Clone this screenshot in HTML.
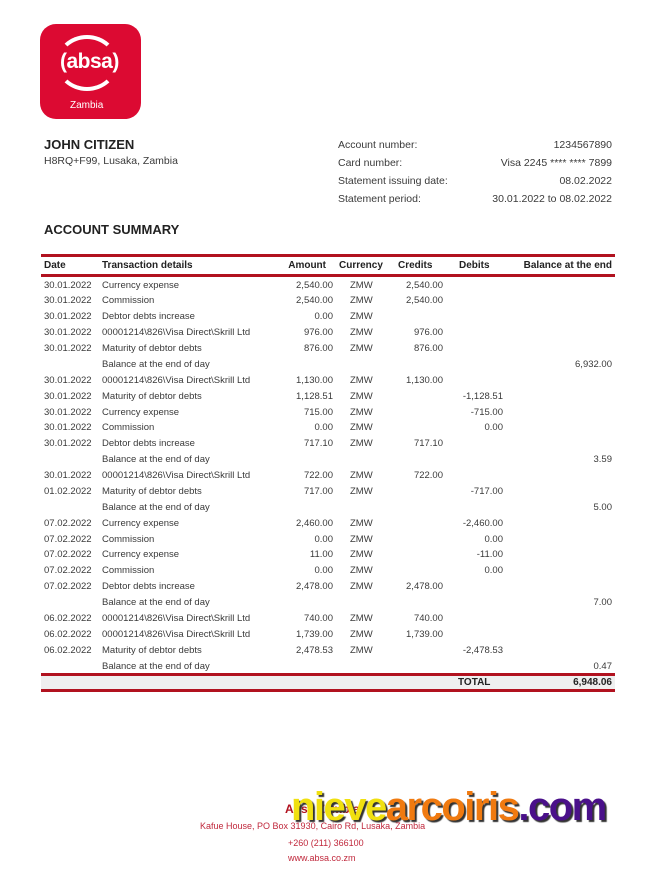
<!DOCTYPE html>
<html><head><meta charset="utf-8"><style>
*{margin:0;padding:0}
body{width:652px;height:870px;background:#fff;position:relative;font-family:"Liberation Sans",sans-serif;color:#333;overflow:hidden}
.a{position:absolute;white-space:nowrap}
.r{text-align:right}
.t{font-size:9.5px;color:#3a3a3a}
.b{font-weight:bold;color:#222}
.line{position:absolute;left:41px;width:574px;background:#b1121f}
</style></head><body>
<div class="a" style="left:40px;top:24px;width:101px;height:95px;background:#dc0a32;border-radius:16px"></div>
<div class="a" style="left:56px;top:35px;width:62px;height:56px;border:4px solid #fff;border-radius:50%;border-left-color:transparent;border-right-color:transparent;box-sizing:border-box"></div>
<div class="a" style="left:60px;top:50px;width:70px;color:#fff;font-size:21px;font-weight:bold;letter-spacing:-0.5px">(absa)</div>
<div class="a" style="left:70px;top:100px;color:#fff;font-size:10px">Zambia</div>

<div class="a b" style="left:44px;top:137px;font-size:13px">JOHN CITIZEN</div>
<div class="a t" style="left:44px;top:155px;font-size:10.5px">H8RQ+F99, Lusaka, Zambia</div>

<div class="a t" style="left:338px;top:139px;font-size:10.5px">Account number:</div>
<div class="a t" style="left:338px;top:157px;font-size:10.5px">Card number:</div>
<div class="a t" style="left:338px;top:175px;font-size:10.5px">Statement issuing date:</div>
<div class="a t" style="left:338px;top:193px;font-size:10.5px">Statement period:</div>
<div class="a t r" style="right:40px;top:139px;font-size:10.5px">1234567890</div>
<div class="a t r" style="right:40px;top:157px;font-size:10.5px">Visa 2245 **** **** 7899</div>
<div class="a t r" style="right:40px;top:175px;font-size:10.5px">08.02.2022</div>
<div class="a t r" style="right:40px;top:193px;font-size:10.5px">30.01.2022 to 08.02.2022</div>

<div class="a b" style="left:44px;top:222px;font-size:13px">ACCOUNT SUMMARY</div>

<div class="line" style="top:254px;height:3px"></div>
<div class="line" style="top:274px;height:3px"></div>
<div class="a b" style="left:44px;top:260px;font-size:10px">Date</div>
<div class="a b" style="left:102px;top:260px;font-size:10px">Transaction details</div>
<div class="a b r" style="right:326px;top:260px;font-size:10px">Amount</div>
<div class="a b" style="left:339px;top:260px;font-size:10px">Currency</div>
<div class="a b" style="left:398px;top:260px;font-size:10px">Credits</div>
<div class="a b" style="left:459px;top:260px;font-size:10px">Debits</div>
<div class="a b r" style="right:40px;top:260px;font-size:10px">Balance at the end</div>

<div id="rows"></div>
<script>
var d=[
["30.01.2022","Currency expense","2,540.00","ZMW","2,540.00","",""],
["30.01.2022","Commission","2,540.00","ZMW","2,540.00","",""],
["30.01.2022","Debtor debts increase","0.00","ZMW","","",""],
["30.01.2022","00001214\\826\\Visa Direct\\Skrill Ltd","976.00","ZMW","976.00","",""],
["30.01.2022","Maturity of debtor debts","876.00","ZMW","876.00","",""],
["","Balance at the end of day","","","","","6,932.00"],
["30.01.2022","00001214\\826\\Visa Direct\\Skrill Ltd","1,130.00","ZMW","1,130.00","",""],
["30.01.2022","Maturity of debtor debts","1,128.51","ZMW","","-1,128.51",""],
["30.01.2022","Currency expense","715.00","ZMW","","-715.00",""],
["30.01.2022","Commission","0.00","ZMW","","0.00",""],
["30.01.2022","Debtor debts increase","717.10","ZMW","717.10","",""],
["","Balance at the end of day","","","","","3.59"],
["30.01.2022","00001214\\826\\Visa Direct\\Skrill Ltd","722.00","ZMW","722.00","",""],
["01.02.2022","Maturity of debtor debts","717.00","ZMW","","-717.00",""],
["","Balance at the end of day","","","","","5.00"],
["07.02.2022","Currency expense","2,460.00","ZMW","","-2,460.00",""],
["07.02.2022","Commission","0.00","ZMW","","0.00",""],
["07.02.2022","Currency expense","11.00","ZMW","","-11.00",""],
["07.02.2022","Commission","0.00","ZMW","","0.00",""],
["07.02.2022","Debtor debts increase","2,478.00","ZMW","2,478.00","",""],
["","Balance at the end of day","","","","","7.00"],
["06.02.2022","00001214\\826\\Visa Direct\\Skrill Ltd","740.00","ZMW","740.00","",""],
["06.02.2022","00001214\\826\\Visa Direct\\Skrill Ltd","1,739.00","ZMW","1,739.00","",""],
["06.02.2022","Maturity of debtor debts","2,478.53","ZMW","","-2,478.53",""],
["","Balance at the end of day","","","","","0.47"]];
var h="";
d.forEach(function(r,i){var y=279.5+i*15.875;
h+='<div class="a t" style="left:44px;top:'+y+'px">'+r[0]+'</div>';
h+='<div class="a t" style="left:102px;top:'+y+'px">'+r[1]+'</div>';
h+='<div class="a t r" style="right:319px;top:'+y+'px">'+r[2]+'</div>';
h+='<div class="a t" style="left:350px;top:'+y+'px">'+r[3]+'</div>';
h+='<div class="a t r" style="right:209px;top:'+y+'px">'+r[4]+'</div>';
h+='<div class="a t r" style="right:149px;top:'+y+'px">'+r[5]+'</div>';
h+='<div class="a t r" style="right:40px;top:'+y+'px">'+r[6]+'</div>';});
document.getElementById("rows").innerHTML=h;
</script>

<div class="a" style="left:41px;top:675px;width:574px;height:15px;background:#efefef"></div>
<div class="line" style="top:673px;height:3px"></div>
<div class="line" style="top:689px;height:3px"></div>
<div class="a b" style="left:458px;top:677px;font-size:10px">TOTAL</div>
<div class="a b r" style="right:40px;top:677px;font-size:10px">6,948.06</div>

<div class="a" style="left:285px;top:802px;color:#b1121f;font-size:12px;font-weight:bold">Absa Zambia</div>
<div class="a" style="left:200px;top:821px;color:#c0283c;font-size:9px">Kafue House, PO Box 31930, Cairo Rd, Lusaka, Zambia</div>
<div class="a" style="left:288px;top:838px;color:#c0283c;font-size:9px">+260 (211) 366100</div>
<div class="a" style="left:288px;top:853px;color:#c0283c;font-size:9px">www.absa.co.zm</div>
<div class="a" style="left:291px;top:785px;font-size:40px;font-weight:bold;letter-spacing:-1.5px;text-shadow:2px 2px 1px #333"><span style="color:#f0e010">nieve</span><span style="color:#f07a10">arcoiris</span><span style="color:#4a108a">.com</span></div>
</body></html>
